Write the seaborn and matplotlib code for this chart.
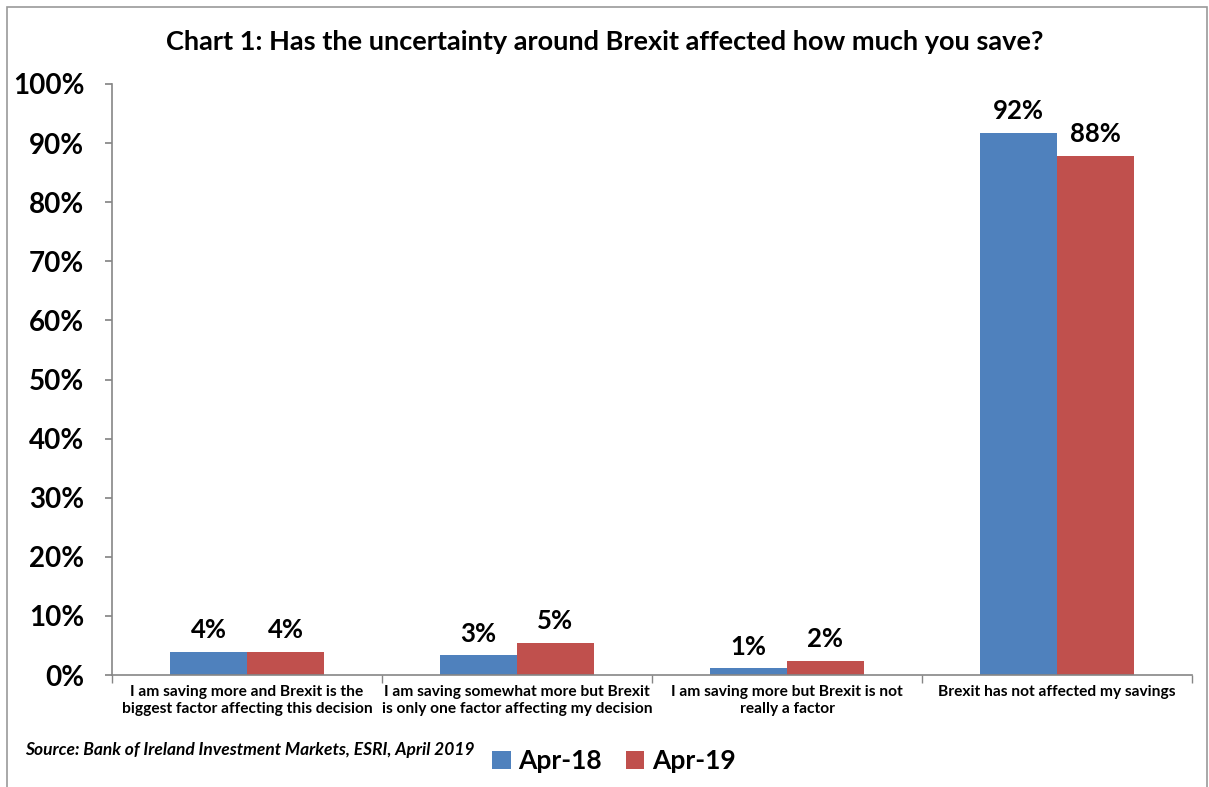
import matplotlib
matplotlib.use("Agg")
import matplotlib.pyplot as plt
import seaborn as sns
import pandas as pd
from matplotlib.patches import Rectangle

categories = [
    "I am saving more and Brexit is the\nbiggest factor affecting this decision",
    "I am saving somewhat more but Brexit\nis only one factor affecting my decision",
    "I am saving more but Brexit is not\nreally a factor",
    "Brexit has not affected my savings",
]
series_names = ["Apr-18", "Apr-19"]
apr18 = [3.9, 3.3, 1.1, 91.7]
apr19 = [3.9, 5.4, 2.4, 87.8]
yticks = [0, 10, 20, 30, 40, 50, 60, 70, 80, 90, 100]
colors = ["#4F81BD", "#C0504D"]

sns.set_theme(style="white")
plt.rcParams["font.family"] = ["Lato", "DejaVu Sans"]
plt.rcParams["text.color"] = "black"
plt.rcParams["xtick.color"] = "black"
plt.rcParams["ytick.color"] = "black"

df = pd.DataFrame({
    "cat": categories * 2,
    "val": apr18 + apr19,
    "series": [series_names[0]] * 4 + [series_names[1]] * 4,
})

fig = plt.figure(figsize=(12.09, 7.87), dpi=100)
ax = fig.add_axes([112 / 1209, 1 - 675 / 787, (1192 - 112) / 1209, (675 - 84) / 787])

sns.barplot(data=df, x="cat", y="val", hue="series", palette=colors,
            width=0.57, saturation=1, gap=0, ax=ax, legend=True,
            edgecolor="none", linewidth=0)

ax.set_ylim(0, 100)
ax.set_xlim(-0.5, 3.5)
ax.set_yticks(yticks)
ax.set_yticklabels([f"{t}%" for t in yticks], fontsize=20, fontweight="bold")
ax.tick_params(axis="x", labelsize=11.2, length=0, pad=7)
ax.tick_params(axis="y", length=5, direction="out", color="#868686", left=True, pad=15)
for lab in ax.get_xticklabels():
    lab.set_fontweight("bold")
    lab.set_linespacing(1.3)
ax.set_xticks([-0.5, 0.5, 1.5, 2.5, 3.5], minor=True)
ax.tick_params(axis="x", which="minor", length=6, direction="out", color="#868686", bottom=True)
ax.set_xlabel("")
ax.set_ylabel("")
for s in ["top", "right"]:
    ax.spines[s].set_visible(False)
for s in ["left", "bottom"]:
    ax.spines[s].set_color("#868686")
    ax.spines[s].set_linewidth(1.2)

for cont in ax.containers:
    ax.bar_label(cont, fmt="%.0f%%", fontsize=18.5, fontweight="bold", padding=7, color="black")

leg = ax.get_legend()
handles = leg.legend_handles
leg.remove()
fig.legend(handles, series_names, loc="center", bbox_to_anchor=(614 / 1209, 1 - 761 / 787),
           ncol=2, frameon=False, prop={"size": 19, "weight": "bold"},
           handlelength=0.7, handleheight=0.7, handletextpad=0.3, columnspacing=0.9)

fig.text(605 / 1209, 1 - 42 / 787, "Chart 1: Has the uncertainty around Brexit affected how much you save?",
         ha="center", va="center", fontsize=19.5, fontweight="bold")
fig.text(25 / 1209, 1 - 750 / 787, "Source: Bank of Ireland Investment Markets, ESRI, April 2019",
         ha="left", va="center", fontsize=12.5, fontweight="bold", fontstyle="italic")

fig.patches.append(Rectangle((7 / 1209, -0.05), 1 - 9 / 1209, 1 - 7 / 787 + 0.05,
                             transform=fig.transFigure, fill=False, edgecolor="#9a9a9a", linewidth=1.2))

fig.savefig("out.png", dpi=100)
